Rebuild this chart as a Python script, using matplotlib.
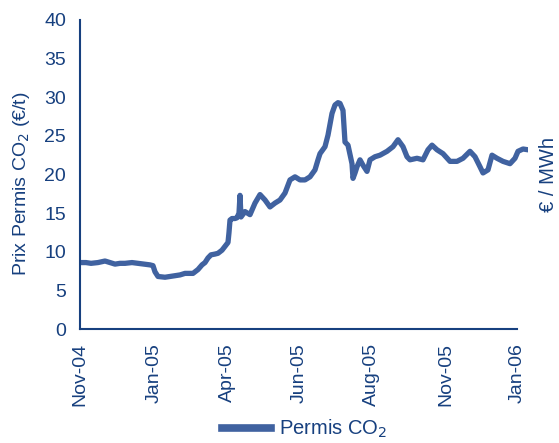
import matplotlib.pyplot as plt
import numpy as np

# Prix du permis CO2 (EUR/t), lu sur le graphique
# jour = rang de la séance depuis début nov. 2004
jour = [1, 6, 11, 18, 25, 30, 35, 40, 45, 52, 58, 64, 70, 73, 75, 78, 85, 90,
        95, 100, 105, 113, 118, 122, 125, 128, 131, 135, 138, 142, 145, 148,
        149, 150, 152, 155, 157, 159, 160, 161, 165, 170, 175, 180, 185, 190,
        195, 200, 205, 210, 215, 220, 225, 230, 235, 238, 240, 245, 248, 252,
        255, 258, 260, 263, 265, 268, 272, 273, 275, 277, 280, 283, 287, 290,
        295, 300, 307, 313, 318, 323, 327, 330, 337, 343, 348, 352, 357, 363,
        370, 377, 383, 390, 395, 400, 403, 408, 412, 417, 423, 430, 435, 438,
        443, 448]
prix = [8.6, 8.6, 8.5, 8.6, 8.8, 8.6, 8.4, 8.5, 8.5, 8.6, 8.5, 8.4, 8.3, 8.2,
        7.4, 6.8, 6.7, 6.8, 6.9, 7.0, 7.2, 7.2, 7.7, 8.3, 8.6, 9.2, 9.6, 9.7,
        9.8, 10.2, 10.7, 11.2, 12.5, 14.1, 14.3, 14.3, 14.4, 15.0, 17.3, 14.5,
        15.2, 14.8, 16.3, 17.4, 16.7, 15.8, 16.3, 16.7, 17.6, 19.3, 19.7, 19.3,
        19.3, 19.7, 20.6, 21.9, 22.7, 23.6, 25.1, 27.9, 29.0, 29.3, 29.2, 28.3,
        24.2, 23.8, 21.4, 19.5, 20.2, 21.0, 21.9, 21.2, 20.4, 21.9, 22.3, 22.5,
        23.0, 23.6, 24.5, 23.6, 22.3, 21.9, 22.1, 21.9, 23.2, 23.8, 23.2, 22.7,
        21.7, 21.7, 22.1, 23.0, 22.3, 21.0, 20.2, 20.6, 22.5, 22.1, 21.7, 21.4,
        22.1, 23.0, 23.3, 23.2]

mois = ['Nov-04', 'Jan-05', 'Apr-05', 'Jun-05', 'Aug-05', 'Nov-05', 'Jan-06']
jour_mois = [0, 74, 147, 219, 291, 366, 437]

line_color = '#4062A0'
text_color = '#17407F'

plt.rcParams['font.family'] = ['Liberation Sans', 'DejaVu Sans']

fig = plt.figure(figsize=(5.59, 4.43), dpi=100)
ax = fig.add_axes([80 / 559, 1 - 329 / 443, 448 / 559, 309 / 443])

ax.plot(jour, prix, color=line_color, linewidth=3.8, solid_joinstyle='round',
        label='Permis CO$_2$')

ax.set_xlim(0, 448)
ax.set_ylim(0, 40)
ax.set_yticks(np.arange(0, 41, 5))
ax.set_xticks(jour_mois)
ax.set_xticklabels(mois, rotation=90)

ax.spines['top'].set_visible(False)
ax.spines['right'].set_visible(False)
ax.spines['left'].set_color(text_color)
ax.spines['bottom'].set_color(text_color)
ax.spines['left'].set_linewidth(1.5)
ax.spines['bottom'].set_linewidth(1.5)
ax.spines['bottom'].set_bounds(0, jour_mois[-1])
ax.tick_params(axis='both', length=0, labelsize=14, labelcolor=text_color, pad=10)

# titres des axes
fig.text(0.038, 0.585, 'Prix Permis CO$_2$ (€/t)', rotation=90, fontsize=14,
         color=text_color, ha='center', va='center')
fig.text(0.982, 0.605, '€ / MWh', rotation=90, fontsize=14.5, color=text_color,
         ha='center', va='center')

leg = fig.legend(loc='lower center', bbox_to_anchor=(0.545, -0.035), frameon=False,
                 fontsize=14.5, handlelength=2.4, handletextpad=0.4)
for t in leg.get_texts():
    t.set_color(text_color)
for h in leg.get_lines():
    h.set_linewidth(5.5)

fig.savefig('out.png', dpi=100)
